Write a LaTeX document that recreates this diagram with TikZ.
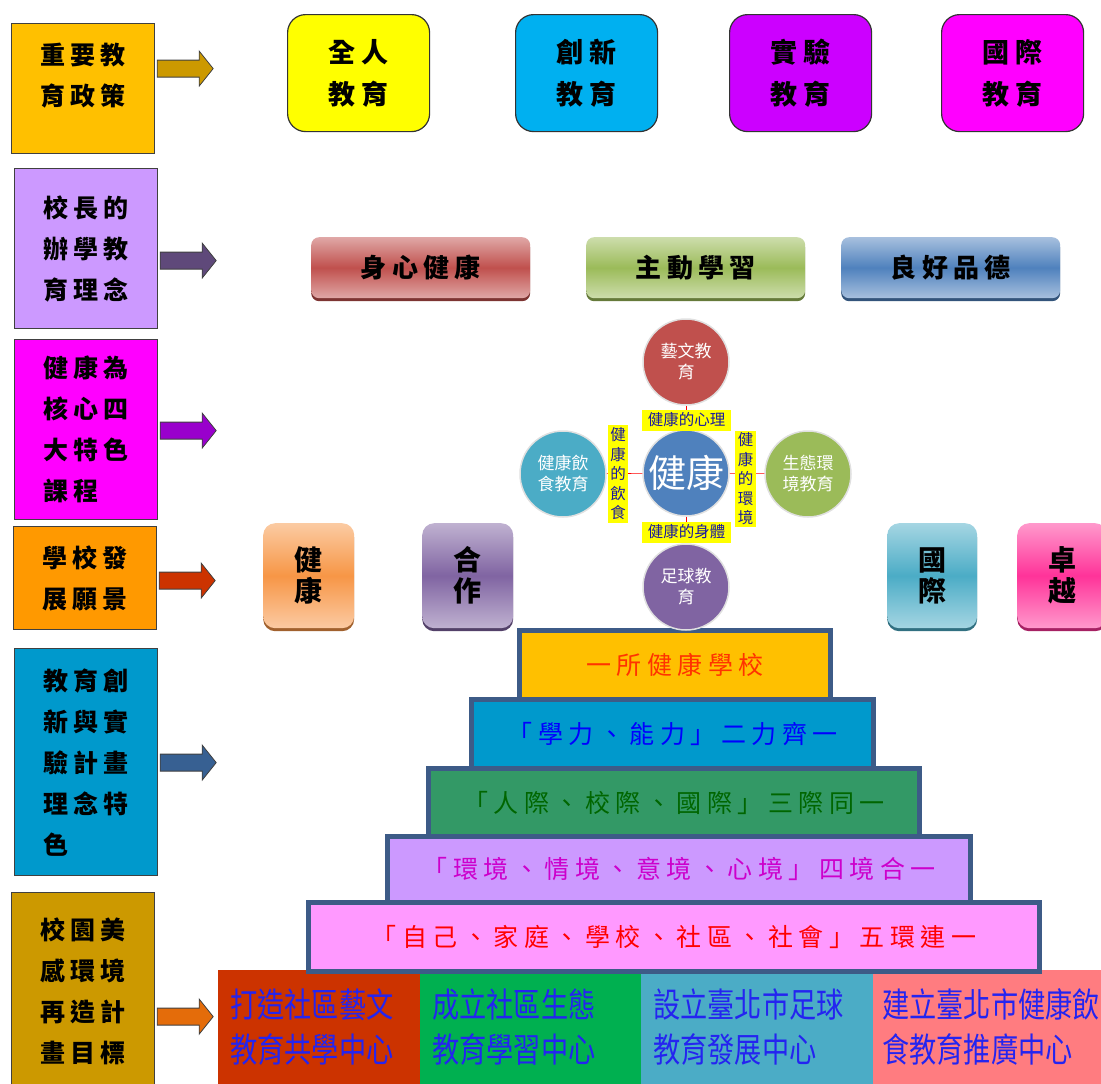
\documentclass[tikz,border=0pt]{standalone}
\usepackage{fontspec}
\usepackage{tikz}
\usetikzlibrary{shadows}
\setmainfont{Noto Sans CJK TC}
\newfontfamily\kaisp[LetterSpace=20]{Noto Sans CJK TC}
\newfontfamily\stepfont[LetterSpace=22]{Noto Sans CJK TC}
\newfontfamily\tallfont[FakeStretch=0.8]{Noto Sans CJK TC}
\newcommand{\fsz}[2]{\fontsize{#1}{#2}\selectfont}
\newcommand{\blockarr}[3]{% colour, box, shift
  \filldraw[fill=#1,draw=black!75,line width=.8] (#2.east) ++(0,#3) ++(2,-8.5) -- ++(42,0) -- ++(0,-9)
    -- ++(14,17.5) -- ++(-14,17.5) -- ++(0,-9) -- ++(-42,0) -- cycle;}

\definecolor{cPol}{HTML}{FFC000}
\definecolor{cIdea}{HTML}{CC99FF}
\definecolor{cCourse}{HTML}{FF00FF}
\definecolor{cVision}{HTML}{FF9900}
\definecolor{cInnov}{HTML}{0099CC}
\definecolor{cCampus}{HTML}{CC9900}
\definecolor{aPol}{HTML}{CC9900}
\definecolor{aIdea}{HTML}{5F497A}
\definecolor{aCourse}{HTML}{9900CC}
\definecolor{aVision}{HTML}{CC3300}
\definecolor{aInnov}{HTML}{376092}
\definecolor{aCampus}{HTML}{E46C0A}
\definecolor{cLemon}{HTML}{FFFF00}
\definecolor{cCreat}{HTML}{00B0F0}
\definecolor{cExper}{HTML}{CC00FF}
\definecolor{cRed}{HTML}{C0504D}
\definecolor{cGreen}{HTML}{9BBB59}
\definecolor{cBlue}{HTML}{4F81BD}
\definecolor{cTeal}{HTML}{4BACC6}
\definecolor{cPurple}{HTML}{8064A2}
\definecolor{cOrange}{HTML}{F79646}
\definecolor{cPink}{HTML}{FF3399}
\definecolor{tagblue}{HTML}{1A1A9E}
\definecolor{stepline}{HTML}{3D5B87}
\definecolor{cJade}{HTML}{339966}
\definecolor{cRose}{HTML}{FF99FF}
\definecolor{tOne}{HTML}{FF3300}
\definecolor{tTwo}{HTML}{0000FF}
\definecolor{tThree}{HTML}{006600}
\definecolor{tFour}{HTML}{CC00CC}
\definecolor{tFive}{HTML}{FF0000}
\definecolor{cBrick}{HTML}{CC3300}
\definecolor{cLeaf}{HTML}{00B050}
\definecolor{cSalmon}{HTML}{FF7C80}
\definecolor{ctrblue}{HTML}{2424F0}

\begin{document}
\begin{tikzpicture}[x=1pt,y=-1pt,
  lbox/.style={draw=black!75,line width=1.2,anchor=north west,minimum width=143,align=left,inner sep=0,font=\kaisp\bfseries\fsz{25}{41}},
  topbox/.style={draw=black!80,line width=1.2,rounded corners=18,anchor=north west,minimum width=142,minimum height=117,align=center,font=\kaisp\bfseries\fsz{27}{42}},
  btn/.style={rounded corners=8,anchor=north west,minimum width=219,minimum height=61,top color=#1!50!white,bottom color=#1!50!white,middle color=#1,
    drop shadow={shadow xshift=0pt,shadow yshift=-3pt,opacity=1,fill=#1!65!black},font=\kaisp\bfseries\fsz{26}{30}},
  card/.style={rounded corners=12,anchor=north west,minimum width=91,minimum height=105,align=center,top color=#1!50!white,bottom color=#1!50!white,middle color=#1,
    drop shadow={shadow xshift=0pt,shadow yshift=-3pt,opacity=1,fill=#1!65!black},font=\bfseries\fsz{28}{31}},
  ball/.style={circle,minimum size=86,inner sep=0,draw=black!12,line width=1.5,text=white,align=center,font=\fsz{17}{21}},
  tag/.style={fill=cLemon,inner sep=0,text=tagblue,align=center,font=\fsz{15.5}{19.5}},
  stepbox/.style={draw=stepline,line width=5,anchor=north west,font=\stepfont\fsz{25}{28}},
  ctr/.style={anchor=north west,minimum height=114,inner xsep=12,align=left,font=\tallfont\fsz{34}{45},text=ctrblue}]
\useasboundingbox (0,0) rectangle (1101,1084);

% left column
\node[lbox,fill=cPol,minimum height=130] (policy) at (11,23) {重要教\\育政策\\[-13pt]\mbox{}};
\node[lbox,fill=cIdea,minimum height=160] (idea) at (14,168) {校長的\\辦學教\\育理念};
\node[lbox,fill=cCourse,minimum height=180] (course) at (14,339) {健康為\\核心四\\大特色\\課程};
\node[lbox,fill=cVision,minimum height=103] (vision) at (13,526) {學校發\\展願景};
\node[lbox,fill=cInnov,minimum height=227] (innov) at (14,648) {教育創\\新與實\\驗計畫\\理念特\\色};
\node[lbox,fill=cCampus,minimum height=198] (campus) at (11,892) {校園美\\感環境\\再造計\\畫目標};
\blockarr{aPol}{policy}{-20}
\blockarr{aIdea}{idea}{12}
\blockarr{aCourse}{course}{1}
\blockarr{aVision}{vision}{2.5}
\blockarr{aInnov}{innov}{0.5}
\blockarr{aCampus}{campus}{25}

% policies
\node[topbox,fill=cLemon] (whole) at (287,14) {全人\\教育};
\node[topbox,fill=cCreat] (creat) at (515,14) {創新\\教育};
\node[topbox,fill=cExper] (exper) at (729,14) {實驗\\教育};
\node[topbox,fill=cCourse] (glob) at (941,14) {國際\\教育};

% ideas
\node[btn=cRed] (body) at (311,237) {身心健康};
\node[btn=cGreen] (active) at (586,237) {主動學習};
\node[btn=cBlue] (moral) at (841,237) {良好品德};

% bottom row and steps
\node[ctr,fill=cBrick,minimum width=202,text width=178] (artsc) at (218,970) {打造社區藝文\\教育共學中心};
\node[ctr,fill=cLeaf,minimum width=221,text width=197] (ecoc) at (420,970) {成立社區生態\\教育學習中心};
\node[ctr,fill=cTeal,minimum width=232,text width=208] (soccerc) at (641,970) {設立臺北市足球\\教育發展中心};
\node[ctr,fill=cSalmon,minimum width=228,text width=210,inner xsep=9] (dietc) at (873,970) {建立臺北市健康飲\\食教育推廣中心};

\node[stepbox,fill=cRose,text=tFive,minimum width=731,minimum height=69] (five) at (306,900) {「自己、家庭、學校、社區、社會」五環連一};
\node[stepbox,fill=cIdea,text=tFour,minimum width=583,minimum height=66] (four) at (385,834) {「環境、情境、意境、心境」四境合一};
\node[stepbox,fill=cJade,text=tThree,minimum width=491,minimum height=68] (three) at (426,766) {「人際、校際、國際」三際同一};
\node[stepbox,fill=cInnov,text=tTwo,minimum width=402,minimum height=69] (two) at (469,697) {「學力、能力」二力齊一};
\node[stepbox,fill=cPol,text=tOne,minimum width=311,minimum height=69] (one) at (517,628) {一所健康學校};

% core courses
\node[ball,fill=cBlue,font=\fsz{38}{40}] (core) at (686,473) {健康};
\node[ball,fill=cRed] (arts) at (686,362) {藝文教\\育};
\node[ball,fill=cTeal] (diet) at (563,474) {健康飲\\食教育};
\node[ball,fill=cGreen] (eco) at (808,474) {生態環\\境教育};
\node[ball,fill=cPurple] (soccer) at (686,587) {足球教\\育};
\foreach \n in {arts,diet,eco,soccer}
  \draw[red,line width=.6] (core) -- (\n);
\node[tag,minimum width=89,minimum height=21] (mind) at (686.5,420) {健康的心理};
\node[tag,minimum width=89,minimum height=21] (physique) at (686.5,532) {健康的身體};
\node[tag,minimum width=20,minimum height=98] (eating) at (618,474) {健\\康\\的\\飲\\食};
\node[tag,minimum width=21,minimum height=96] (envir) at (745.5,479) {健\\康\\的\\環\\境};

% vision
\node[card=cOrange] (health) at (263,523) {健\\康};
\node[card=cPurple] (coop) at (422,523) {合\\作};
\node[card=cTeal,minimum width=90] (world) at (887,523) {國\\際};
\node[card=cPink,minimum width=90] (excel) at (1017,523) {卓\\越};
\end{tikzpicture}
\end{document}
